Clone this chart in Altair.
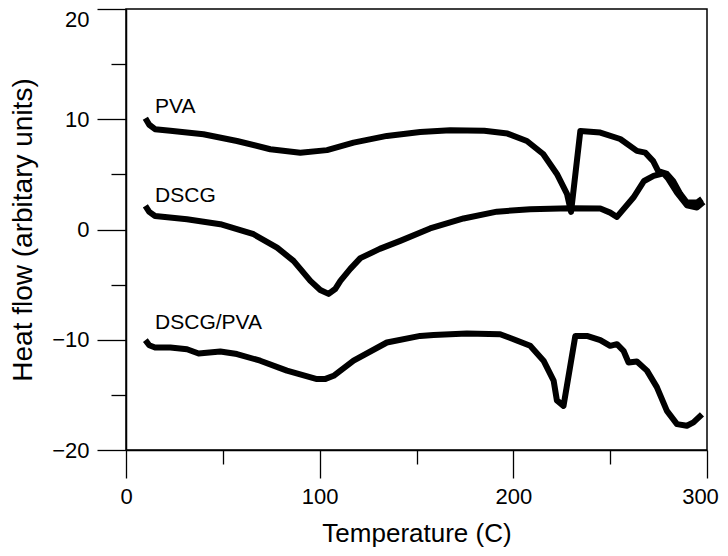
import altair as alt
import pandas as pd

# ---- data ----
pva_t = [10, 12, 15, 22.9, 40, 57.3, 74.5, 90, 103.8, 117.5, 134.7, 151.9, 167.4, 185,
         197, 207, 215.4, 222.5, 227.7, 229.8, 234.6, 244.9, 255.2, 263.8, 268.1, 272.2,
         274.8, 279.3, 282.5, 286.2, 289.6, 294.8, 297.4]
pva_h = [10.1, 9.5, 9.1, 8.95, 8.64, 8.03, 7.28, 6.97, 7.2, 7.88, 8.49, 8.85, 9.0, 8.95,
         8.7, 8.03, 6.85, 5.04, 3.23, 1.6, 8.94, 8.79, 8.21, 7.13, 6.97, 6.2,
         5.3, 5.04, 4.4, 3.23, 2.44, 2.44, 2.77]

dscg_t = [10, 12, 15, 31.5, 48.7, 65.9, 78, 86.5, 90, 95.2, 100.3, 104.6, 108, 110.7,
          115.8, 121, 131, 141.6, 157, 174.3, 191.5, 208.7, 229.4, 244.9, 250, 253.5,
          262, 267.5, 272.4, 277.5, 280, 284.5, 289.6, 294.8, 298.2]
dscg_h = [2.14, 1.6, 1.23, 0.93, 0.48, -0.43, -1.64, -2.85, -3.57, -4.66, -5.48, -5.84, -5.4, -4.66,
          -3.57, -2.6, -1.76, -1.03, 0.1, 1.0, 1.62, 1.84, 1.93, 1.9, 1.53, 1.14,
          2.9, 4.4, 4.86, 5.1, 4.6, 3.35, 2.2, 2.0, 2.5]

mix_t = [10, 12, 15, 22.9, 31.5, 37.5, 48.7, 57.3, 69.3, 83.1, 98.6, 103, 107.2, 117.5,
         134.7, 151.9, 158.8, 176, 193.2, 200.1, 208.7, 215.6, 220.8, 222.5, 225.9, 232,
         238, 244.9, 250, 253.5, 256.9, 259.5, 263.8, 269, 274.1, 279.3, 284.5, 289.6,
         293, 297.4]
mix_h = [-10.04, -10.5, -10.7, -10.7, -10.86, -11.25, -11.07, -11.3, -11.9, -12.8, -13.57, -13.55,
         -13.27, -11.9, -10.25, -9.65, -9.56, -9.44, -9.5, -9.95, -10.55, -11.9, -13.7, -15.5,
         -16.0, -9.65, -9.65, -10.04, -10.55, -10.4, -11.0, -12.07, -11.98, -12.8, -14.3,
         -16.45, -17.65, -17.8, -17.5, -16.77]

label_text = ["PVA", "DSCG", "DSCG/PVA"]
label_t = [15, 15, 15]
label_h = [11.1, 3.05, -8.5]

x_major = [0, 100, 200, 300]
x_minor = [50, 150, 250]
y_major = [-20, -10, 0, 10, 20]
y_minor = [-15, -5, 5, 15]

rows = []
for name, ts, hs in [("PVA", pva_t, pva_h), ("DSCG", dscg_t, dscg_h), ("DSCG/PVA", mix_t, mix_h)]:
    for t, h in zip(ts, hs):
        rows.append({"series": name, "T": t, "H": h})
df = pd.DataFrame(rows)
labels = pd.DataFrame({"text": label_text, "T": label_t, "H": label_h})

FONT = "Liberation Sans"
xscale = alt.Scale(domain=[0, 300], nice=False, zero=False)
yscale = alt.Scale(domain=[-20, 20], nice=False, zero=False)

x_axis = alt.Axis(values=x_major, tickSize=28, tickWidth=1.3, tickColor="black",
                  domainColor="black", domainWidth=1.5, grid=False,
                  labelFont=FONT, labelFontSize=22, labelColor="black", labelPadding=8,
                  labelFlush=False,
                  labelOffset={"condition": {"test": "datum.value == 300", "value": -7},
                               "value": 0},
                  title="Temperature (C)", titleFont=FONT, titleFontSize=26,
                  titleFontWeight="normal", titleColor="black", titlePadding=13, orient="bottom")
y_axis = alt.Axis(values=y_major, tickSize=29, tickWidth=1.3, tickColor="black",
                  domainColor="black", domainWidth=1.5, grid=False,
                  labelFont=FONT, labelFontSize=22, labelColor="black", labelPadding=8,
                  labelFlush=False,
                  labelBaseline={"condition": {"test": "datum.value == 20", "value": "top"},
                                 "value": "middle"},
                  title="Heat flow (arbitary units)", titleFont=FONT,
                  titleFontSize=28, titleFontWeight="normal", titleColor="black",
                  titlePadding=14, orient="left")
x_axis_minor = alt.Axis(values=x_minor, tickSize=14, tickWidth=1.3, tickColor="black",
                        labels=False, domain=False, grid=False, title=None, orient="bottom")
y_axis_minor = alt.Axis(values=y_minor, tickSize=15, tickWidth=1.3, tickColor="black",
                        labels=False, domain=False, grid=False, title=None, orient="left")

lines = alt.Chart(df).mark_line(color="black", strokeWidth=6, strokeJoin="round").encode(
    x=alt.X("T:Q", scale=xscale, axis=x_axis),
    y=alt.Y("H:Q", scale=yscale, axis=y_axis),
    detail="series:N",
)

minor = alt.Chart(df).mark_line(opacity=0).encode(
    x=alt.X("T:Q", scale=xscale, axis=x_axis_minor),
    y=alt.Y("H:Q", scale=yscale, axis=y_axis_minor),
    detail="series:N",
)

text = alt.Chart(labels).mark_text(align="left", baseline="middle", font=FONT,
                                   fontSize=21, color="black").encode(
    x=alt.X("T:Q", scale=xscale, axis=None),
    y=alt.Y("H:Q", scale=yscale, axis=None),
    text="text:N",
)

chart = alt.layer(lines, minor, text).resolve_axis(
    x="independent", y="independent"
).properties(
    width=581, height=441,
    autosize=alt.AutoSizeParams(type="none"),
    padding={"left": 118, "top": 1, "right": 13, "bottom": 98},
).configure_view(stroke="black", strokeWidth=1.5)

chart.save("out.html", embed_options={"renderer": "svg", "actions": False})
